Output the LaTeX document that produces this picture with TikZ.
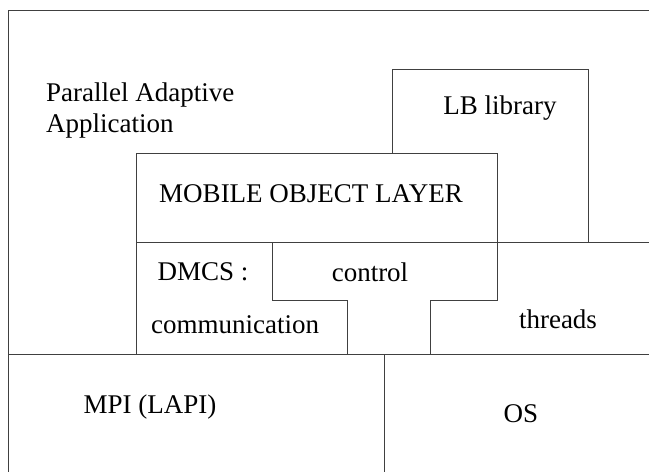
\documentclass[tikz,border=0pt]{standalone}
\usepackage{fontspec}
\setmainfont{Liberation Serif}
\begin{document}
\begin{tikzpicture}[x=1pt,y=-1pt,
  ln/.style={line width=0.9pt,draw=black!75},
  lbl/.style={font=\fontsize{27}{31}\selectfont,inner sep=0pt}]
\useasboundingbox (0,0) rectangle (649,472);
% outer application frame
\draw[ln] (8,472) -- (8,10) -- (649,10);
% LB library box
\draw[ln] (392,153) -- (392,69) -- (588,69) -- (588,242);
% mobile object layer
\draw[ln] (136,354) -- (136,153) -- (497,153) -- (497,242);
\draw[ln] (136,242) -- (649,242);
% control T-shape
\draw[ln] (272,242) -- (272,300) -- (347,300) -- (347,354);
\draw[ln] (497,242) -- (497,300) -- (430,300) -- (430,354);
% lower layer
\draw[ln] (8,354) -- (649,354);
\draw[ln] (384,354) -- (384,472);
% labels
\node[lbl,anchor=west,align=left] (app) at (46,111) {Parallel Adaptive\\Application};
\node[lbl] (lb) at (500,108) {LB library};
\node[lbl] (mol) at (311,194) {MOBILE OBJECT LAYER};
\node[lbl] (dmcs) at (203,272) {DMCS :};
\node[lbl] (ctl) at (370,272) {control};
\node[lbl] (comm) at (235,325) {communication};
\node[lbl] (thr) at (558,319) {threads};
\node[lbl] (mpi) at (150,407) {MPI (LAPI)};
\node[lbl] (os) at (521,414) {OS};
\end{tikzpicture}
\end{document}
